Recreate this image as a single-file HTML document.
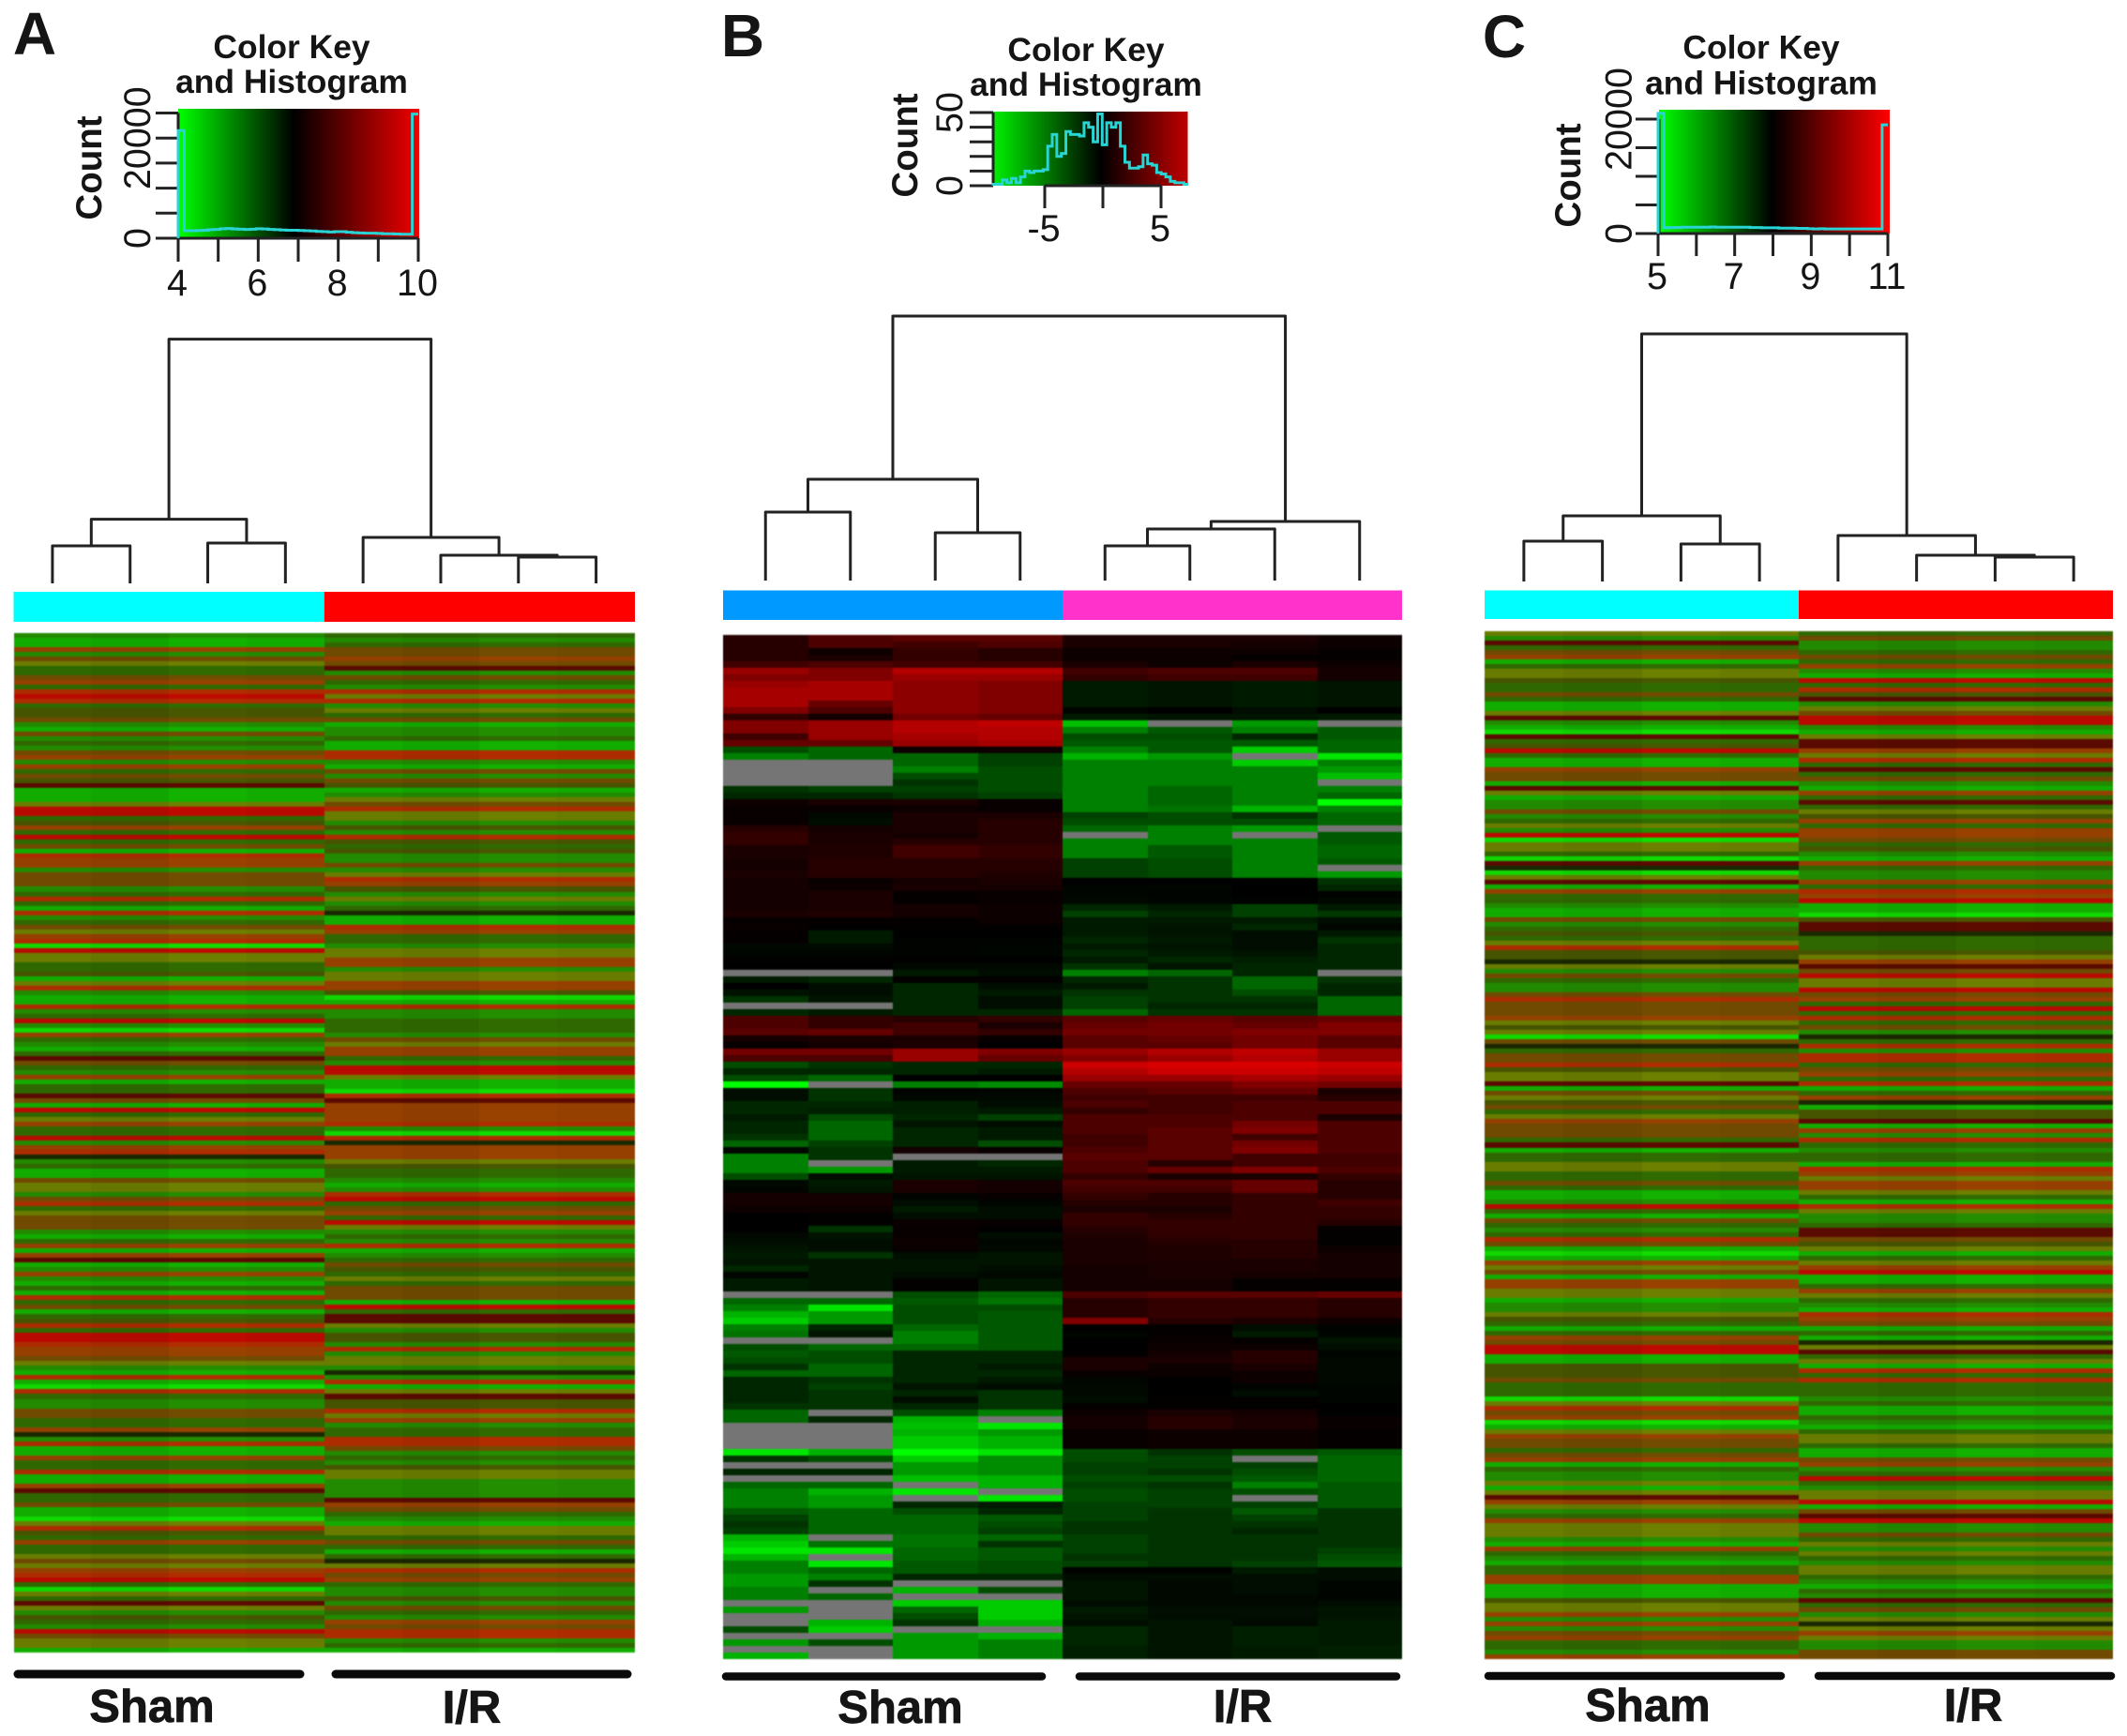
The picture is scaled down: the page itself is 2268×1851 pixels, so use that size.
<!DOCTYPE html>
<html lang="en">
<head>
<meta charset="utf-8">
<title>Heatmaps with colour keys: Sham versus I/R</title>
<style>
html,body{margin:0;padding:0;background:#fff;}
#figure{display:block;width:2268px;height:1851px;font-family:"Liberation Sans",sans-serif;}
text{fill:#151515;}
.b{font-weight:700;}
</style>
</head>
<body>
<svg id="figure" xmlns="http://www.w3.org/2000/svg" width="2268" height="1851" viewBox="0 0 2268 1851">
<defs>
<filter id="soft" filterUnits="userSpaceOnUse" x="0" y="600" width="2268" height="1200" color-interpolation-filters="sRGB"><feGaussianBlur stdDeviation="0.5 0.8"/></filter>
<linearGradient id="keyA"><stop offset="0" stop-color="#00ff00"/><stop offset="0.48" stop-color="#000"/><stop offset="1" stop-color="#f00000"/></linearGradient>
<linearGradient id="keyB"><stop offset="0" stop-color="#00f000"/><stop offset="0.55" stop-color="#000"/><stop offset="1" stop-color="#c00000"/></linearGradient>
<linearGradient id="keyC"><stop offset="0" stop-color="#00ff00"/><stop offset="0.49" stop-color="#000"/><stop offset="1" stop-color="#ff0000"/></linearGradient>
</defs>
</svg>
<script>
// ---------- chart data ----------
const countsA = [21500,1500,1500,1550,1600,1700,1750,1900,1950,1850,1800,1750,1800,1900,1850,1750,1700,1650,1600,1600,1550,1500,1450,1350,1300,1250,1300,1300,1200,1100,1050,1000,1000,950,900,900,850,800,800,24800];
const countsB = [1,1,4,2,5,2,6,10,9,10,10,11,27,35,20,22,37,35,35,34,43,40,30,49,28,43,40,43,27,16,12,12,13,21,15,14,9,8,6,3,2,2,1];
const countsC = [21000,1000,1050,1050,1100,1100,1100,1100,1100,1150,1100,1100,1100,1100,1100,1100,1050,1050,1000,1000,1000,950,950,950,900,900,850,800,850,800,800,800,800,800,800,800,800,800,800,19000];

const countTicksA = [0,5000,10000,15000,20000,25000];
const countTicksB = [0,10,20,30,40,50];
const countTicksC = [0,5000,10000,15000,20000];
const countLabelsA = [0,20000];
const countLabelsB = [0,50];
const countLabelsC = [0,20000];
const valueTicksA = [4,5,6,7,8,9,10];
const valueTicksB = [-5,0,5];
const valueTicksC = [5,6,7,8,9,10,11];
const valueLabelsA = [4,6,8,10];
const valueLabelsB = [-5,5];
const valueLabelsC = [5,7,9,11];

// dendrogram merges: [left, right, height]; a number is a leaf, "m<k>" is an earlier merge
const mergesA = [[0,1,40],[2,3,43],["m0","m1",68.4],[6,7,28],[5,"m3",30],[4,"m4",49],["m2","m5",260.4]];
const mergesB = [[0,1,73],[2,3,51],["m0","m1",108],[4,5,37],["m3",6,55],["m4",7,63],["m2","m5",282]];
const mergesC = [[0,1,43],[2,3,40],["m0","m1",70],[6,7,26],[5,"m3",28],[4,"m4",49],["m2","m5",264]];

const groupNames = ["Sham","I/R"];

// blended stripe classes for panels A and C: [Sham class, I/R class] per row
const heatA = [[2,3],[1,2],[1,3],[7,6],[2,6],[6,7],[5,6],[3,10],[3,2],[6,6],[7,3],[3,2],[8,8],[9,5],[8,8],[3,2],[4,5],[4,3],[6,6],[2,1],[1,2],[6,2],[2,3],[3,1],[2,1],[6,8],[7,8],[2,2],[7,1],[3,6],[6,2],[4,6],[10,4],[1,1],[1,2],[1,5],[5,6],[9,8],[9,5],[3,5],[4,2],[7,4],[3,2],[9,8],[3,4],[6,3],[1,4],[8,2],[7,2],[7,6],[2,2],[6,5],[6,8],[6,7],[2,4],[3,2],[8,5],[3,2],[1,3],[8,11],[2,1],[3,1],[6,8],[5,7],[7,3],[8,3],[0,2],[9,5],[5,5],[5,7],[3,7],[3,2],[4,5],[1,5],[5,7],[8,7],[2,4],
[1,0],[1,1],[8,8],[2,2],[3,2],[9,3],[2,3],[0,3],[7,2],[3,6],[2,5],[1,7],[3,7],[10,3],[6,2],[3,9],[2,9],[7,5],[1,1],[3,1],[3,0],[10,8],[6,10],[1,7],[9,7],[3,7],[5,7],[7,8],[3,2],[3,0],[9,8],[2,11],[7,7],[8,7],[11,7],[2,5],[3,4],[1,3],[1,3],[6,2],[5,1],[5,2],[2,8],[6,9],[8,3],[3,6],[5,7],[6,3],[6,9],[6,5],[2,2],[1,3],[3,2],[7,8],[1,1],[7,2],[10,3],[1,6],
[2,4],[7,3],[2,5],[1,3],[3,6],[1,6],[8,6],[3,1],[6,9],[1,3],[3,10],[4,10],[8,5],[3,2],[9,4],[9,4],[8,2],[7,8],[7,2],[6,5],[5,5],[2,2],[1,11],[8,2],[1,8],[0,1],[8,5],[3,10],[2,4],[2,4],[6,8],[6,5],[3,7],[3,2],[7,3],[11,3],[2,8],[8,8],[1,6],[1,2],[7,3],[3,2],[3,4],[8,5],[1,5],[1,2],[7,2],[10,2],[3,2],[3,10],[6,7],[1,6],
[1,3],[0,2],[5,1],[8,5],[4,5],[3,3],[7,6],[3,3],[3,1],[5,3],[6,11],[5,5],[7,8],[8,6],[9,7],[3,3],[0,2],[5,2],[3,4],[10,2],[5,6],[2,3],[4,2],[3,7],[2,6],[9,8],[6,8],[5,2],[5,3],[1,1]];

const heatC = [[5,3],[2,6],[10,2],[3,2],[6,3],[7,6],[1,3],[3,7],[5,2],[5,1],[4,9],[3,3],[3,8],[6,4],[3,10],[1,2],[1,5],[5,6],[10,9],[2,9],[1,2],[0,1],[10,5],[3,10],[4,10],[9,7],[3,5],[1,8],[1,3],[7,10],[6,3],[6,6],[1,2],[10,1],[5,7],[1,3],[2,10],[2,3],[6,5],[2,4],[3,7],[5,3],[2,7],[9,7],[0,6],[5,3],[5,4],[3,2],[0,1],[10,7],[11,3],[0,2],[5,2],[10,7],[1,3],[7,8],[3,7],[3,9],[2,1],[1,1],[1,0],[6,4],[2,10],[3,10],[4,11],[3,3],[5,3],[8,3],[4,4],[4,5],[11,7],[5,10],[2,6],[6,9],[3,5],[2,5],[2,9],[6,6],[8,7],[6,3],[6,9],[6,3],
[7,8],[5,3],[4,6],[5,2],[0,11],[6,3],[11,8],[3,2],[6,8],[6,8],[8,3],[4,6],[5,7],[5,3],[10,8],[1,1],[6,3],[5,7],[4,11],[6,1],[3,4],[5,4],[7,10],[6,1],[6,7],[6,2],[3,8],[10,3],[1,2],[3,3],[3,3],[5,1],[5,8],[3,7],[3,5],[6,7],[3,7],[1,5],[1,3],[2,1],[9,8],[3,5],[1,2],[6,2],[3,3],[2,10],[3,10],[8,6],[6,4],[1,5],[0,1],[1,3],[7,5],[5,7],[6,9],[1,1],[7,1],[7,3],[5,7],[5,5],[1,3],[2,2],[2,1],[5,8],[4,7],[3,6],[1,1],[3,3],[7,1],[6,11],[9,5],[9,10],[1,3],[1,5],[4,1],[4,8],[4,3],[6,8],[3,3],[3,3],[3,3],[0,2],[5,3],[8,1],[6,1],
[7,3],[0,2],[1,1],[5,3],[7,5],[6,5],[6,3],[3,1],[6,1],[7,6],[1,7],[3,2],[2,3],[2,9],[5,3],[1,2],[5,5],[10,5],[7,9],[5,1],[2,6],[3,10],[7,9],[5,2],[5,2],[5,6],[2,3],[1,5],[7,2],[3,5],[2,3],[1,2],[3,5],[3,5],[7,3],[7,2],[1,1],[1,3],[1,2],[4,10],[5,3],[5,6],[7,2],[2,5],[7,11],[2,5],[6,7],[7,5],[3,2],[3,2],[2,6],[7,6]];

const _ = null; // missing value, drawn grey
const heatB = [
[1.5,3,3.5,3.5,1,1,1,.5],[1.5,3,2.5,3,1,1,.8,.5],[1.5,.5,2,1.5,.5,.5,.5,.2],[1.5,1,2,1.5,.5,.5,.2,.2],[2.5,3,2.5,2.5,1,.5,1,.5],[6,5,7,7,2.5,3,3,.8],[5,5,6,6,2,2.5,2.5,.8],
[6,6.5,5.5,5,-1,-.8,-1,-.8],[6.5,6.5,5.5,5,-1,-.8,-1,-.8],[6.5,6.5,5.5,5,-1,-.8,-1,-.8],[6.5,4,5.5,5,-1,-.8,-1,-.8],[5,3,5.5,5,-.2,0,-.5,0],[2,.8,4.5,4,-1,-.8,-.8,-1],[5,6,7,7.5,-7.5,_,-6,_],[5,6,7,7,-5,-3.5,-5,-3.5],[2.5,6,6.5,7,-3,-3,-1.5,-3.5],[4,4,6,6.5,-3.5,-3.5,-3.5,-4],
[-3,-4,.5,.5,-5,-3.5,-8,-4],[-5,-4,-4,-2.5,-7,-6,_,-9],[_,_,-4,-2.5,-5,-5,-8,-5],[_,_,-5,-3,-5,-5,-5,-6],[_,_,-3,-3,-5,-5,-5,-7.5],[_,_,-2,-3,-5,-5,-5,_],[-2,-2.5,-2.5,-3,-5,-4,-5,-5],[-1.5,-1.5,-2,-2.5,-5,-4,-5,-4],[.5,1,1,.3,-5,-4,-5,-10],[.3,.3,.5,.3,-5,-4.5,-7,-5],[.3,-.3,1,1,-2.5,-3,-2,-4],[.3,-.5,1,1.5,-3,-3,-3,-4],[1.5,.8,1,1.5,-4,-5,-6,_],[2,1,.8,1.5,_,-5,_,-3.5],[2,1,1.5,1.5,-5,-5,-5,-3.5],[1,1.2,2.5,2,-5,-3.5,-5,-4],[1,1.2,2.5,2,-5,-3.5,-5,-4],[.8,1.5,1.5,1.5,-2.5,-3,-5,-3.5],[.8,1.5,1.5,1.5,-2.5,-3,-5,_],[1,1.5,1.5,1.2,-2.5,-3,-5,-6],
[.8,.3,.8,1,0,0,0,-2],[.8,.5,1,.8,-.2,-.2,0,-1.5],[.8,1,.2,.3,-.2,-.1,0,-.1],[.8,1,.2,.3,-.3,-.2,-.1,-.3],[.8,1,.8,.5,-1.5,-1,-2.5,-1],[1,1.2,.8,.5,-2.5,-1.5,-2.5,-2.2],[.2,.2,.2,.5,-1,-1,-1,-.5],[.3,0,.1,.1,-1,-.8,-1.5,-.2],[.2,-1,0,0,-1,-.8,-.5,-1],[.2,-1,-.1,-.1,-1.5,-1,-.5,-2],[-.3,-.4,-.1,-.2,-1,-.8,-.5,-1.5],[-.2,-.2,-.1,-.2,-1.5,-1,-.8,-1.5],[.1,.1,.1,0,-1,-1.5,-1.2,-1.5],[0,0,-.3,-.3,-2,-.8,-1.5,-1.5],[_,_,-1,-.5,-5,-4,-1.5,_],[-1,-1.5,.1,.1,-1.5,-2,-4,-2],[0,-.5,-1.5,-.5,-1,-2,-4,-1.5],[-.7,-.5,-1.5,-1,-2,-2,-3,-1.5],[-2,-.8,-1.5,-.5,-2.5,-2,-2,-4],[_,_,-1.5,-.5,-2.5,-1.5,-1.5,-4],[-1.5,-1,-1.5,-1.5,-4,-2,-2,-4],
[3,2,1.5,2,3.5,4,3.5,4],[3,2,2.5,1,4,4.5,4,5],[3.5,4,2.5,2,4.5,4.5,5,5],[.8,1,1,.3,3.5,4,4.5,3.5],[.3,.8,1,0,3.5,3.5,4.5,3.5],[4.5,4.5,6,5,6,7,7.5,6],[3,3,6,4,5,6,7,6],[-3,-2,-1.5,-1.5,8,8.5,8.5,8],[-1.5,-1.5,-1.5,-1,7,8,8,7.5],[-3,-4,0,0,6,6,6.5,6],[-10,_,-5,-5.5,4,4,5,4.5],[-.5,-2,-.1,-.2,3,3.5,4,1],[-.5,-2,-.3,-.3,2.5,2.5,2.5,1.5],[-1.5,-1.5,-1.2,-.5,3,2.5,3,3],[-1.5,-1.2,-1.2,-1,2,2.5,3,3],[-1,-3,-1.5,-2.5,3,3,3,1],[-1.5,-4,-.8,-.5,3,3,4.5,3],[-1.5,-4,-1.5,-1,3,3.5,5,3],[-2,-4,-1.5,-1,2.5,3.5,2.5,3],[-4,-2.5,-1.5,-3,2.5,3.5,4.5,3],[-.3,-2,.8,.3,3,3.5,5,3],[-5,-2,_,_,3.5,3.5,2.5,2.5],[-5,_,-1,-1.5,3,1.5,2.5,2.5],[-5,-6,-1,-1,3,4,5,3],[-3,-.5,-.8,-.8,2,1,1,2],
[-.3,-1,1,.8,3,3,4,1.5],[-.2,-.8,1,.8,2.5,2.5,4,1.5],[.8,.8,-.1,.3,2,1.5,2,1.5],[.8,.8,-.5,-.2,1.5,1.5,2,2.5],[.5,.5,-1,-.5,1,1,2,2],[0,.1,-.5,-.5,2,1.5,2,2],[0,.1,.4,.3,2,2,2,1.5],[0,-2,.3,0,1.5,2,2,.1],[-.3,-.8,.3,-.5,1.2,1.8,2,.1],[-.5,-.5,.5,-.2,1,1.5,1.5,.1],[-.8,-.5,.3,-.3,1,1.2,1.5,.5],[-1,-2,-.6,-.8,1,1.2,1.5,.8],[-.8,-.8,-.8,-.8,1,1,1,.8],[-1.5,-.8,-.8,-.5,.8,1,1,.8],[-.2,-.8,-.5,-.3,.8,1,.8,.8],[-1,-.8,.1,-.8,.8,.8,.2,.1],[-1,-.8,.1,-.8,.8,.8,.2,.1],
[_,_,-3,-4,3,3.5,3.5,4],[-4,-4,-3.5,-4.5,1.5,2,2,1.5],[-5,-9,-3,-3,1.5,2,2,1.5],[-7,-6,-3,-3.5,1.5,2,2,1.5],[-8,-6,-3,-3.5,5,1.5,1,.5],[-5,-1.5,-4,-3.5,0,.1,-.5,-.1],[-4.5,-.8,-5,-3.5,-.2,.2,-1,-.2],[_,_,-5,-3.5,0,.3,.2,-.8],[-3,-4,-4,-3.5,0,.5,.5,-.5],[-3.5,-3,-1.5,-1.5,.1,.8,1.5,-.2],[-3,-3,-1.5,-1.5,1,1,1.5,-.3],[-2,-4,-1.5,-1,1,.5,1,-.3],[-4,-4,-1.5,-1.5,.3,.4,.5,-.3],[-1.5,-2,-1.5,-1,-.2,0,.5,-.3],[-1.5,-2.5,-.8,-.5,-.3,0,-.1,-.2],[-1.5,-2,-1.5,-2,-.3,0,-.5,-.2],[-1.5,-2,-.5,-2,-.5,.1,.1,-.2],[-2,-2,-1.5,-2,.1,.1,.1,0],[-4,_,-3,-5,.5,1,.8,0],[-4,-1.5,-7,_,.8,1.5,1,.3],[_,_,-7.5,-9,.8,1.5,1,.3],[_,_,-7,-6,.3,.5,.5,.2],[_,_,-8,-7,.3,.5,.5,.2],[_,_,-8,-7,.3,.5,.5,.2],
[-9,-7,-10,-9,-3,-2,-3,-3.5],[-2,-3,-8,-5.5,-3,-2.5,_,-4],[_,_,-6,-5.5,-2.5,-2.5,-2.5,-4],[-1.5,-1.5,-6,-5.5,-2.5,-2,-3,-4],[_,_,-7.5,-7,-3,-3,-3.5,-4],[-4,-4,_,-7,-2.5,-2,-5,-3.5],[-5,-7,-9,_,-3,-2.5,-3,-3.5],[-5,-6,_,-9,-3,-2.5,_,-3.5],[-5,-6,-1.5,-1,-2.5,-2.5,-2.5,-3.5],[-3.5,-4,-3,-1.5,-2.5,-2,-3.5,-2],[-2.5,-4,-4,-3.5,-2.5,-2,-2.5,-2],[-2,-4,-4,-3,-2,-2,-2,-2],[-2.5,-4,-4,-2.5,-2,-2,-1.5,-2],[-7,_,-4.5,-4,-2.5,-2,-2,-2],[-8,-4.5,-4.5,-2,-2.5,-2,-2,-2],[-9,-9,-4,-3.5,-2.5,-2,-2,-2.5],[-7,_,-4,-3.5,-2,-2,-2,-3],[-5,-9,-3.5,-3,-2.5,-2,-2.5,-3.5],
[-5,-4,-3.5,-3,-.1,-.1,-1,-.5],[-6,-5,-1.5,-1.5,-.5,-.5,-.5,-.5],[-6,-2,_,_,-.8,-.3,-.5,-.2],[-5,_,-7,-3,-.8,-.3,-.5,-.2],[-5,-4,_,_,-.8,-.3,-.3,-.1],[_,_,-8,-8,-.5,-.3,-.3,-.5],[-6,_,-4,-8,-1,-.5,-.5,-.8],[_,_,-3,-8,-.8,-.5,-.5,-.8],[_,-7,-2,-7,-.5,-.8,-.4,-1],[-3,-8,_,_,-1.5,-.8,-1.2,-1],[_,_,-6,-7,-1.5,-.8,-1.2,-1],[-6,-3,-6,-5,-1.5,-.8,-1.2,-1],[_,_,-6,-5,-1.2,-.8,-1,-1.2],[-7,_,-6,-5,-1.2,-.8,-1,-1.2]];

// ---------- rendering ----------
const NS = "http://www.w3.org/2000/svg";
const root = document.getElementById("figure");
const stripePalette = ["#10d800","#12ac00","#228a00","#2f6800","#465400","#6a7c00","#6f4a00","#954000","#ac2c00","#b80a00","#5a0a00","#1a2800"];
const columnTone = [1,0.96,1.03,1];

function make(tag, attrs, parent) {
  const el = document.createElementNS(NS, tag);
  for (const k in attrs) el.setAttribute(k, attrs[k]);
  parent.appendChild(el);
  return el;
}
function label(parent, str, x, y, size, bold, rotate) {
  const attrs = {x: x, y: y, "font-size": size, "text-anchor": "middle"};
  if (bold) attrs["class"] = "b";
  if (rotate) attrs.transform = "rotate(-90 " + x + " " + y + ")";
  const el = make("text", attrs, parent);
  el.textContent = str;
  return el;
}
function scale(d0, d1, r0, r1) { return v => r0 + (v - d0) * (r1 - r0) / (d1 - d0); }
function tone(hex, f) {
  const n = parseInt(hex.slice(1), 16);
  const c = s => Math.min(255, Math.round(((n >> s) & 255) * f));
  return "rgb(" + c(16) + "," + c(8) + "," + c(0) + ")";
}
function divergent(v) {
  if (v === null) return "#757575";
  const a = Math.min(255, Math.round(Math.abs(v) * 25.5));
  return v >= 0 ? "rgb(" + a + ",0,0)" : "rgb(0," + a + ",0)";
}

function drawPanel(p) {
  const g = make("g", {}, root);
  
  

  const letter = label(g, p.letter, p.letterX, p.letterY, 64, true);
  
  

  // colour key
  const sx = scale(p.xDomain[0], p.xDomain[1], p.xRange[0], p.xRange[1]);
  const sy = scale(0, p.yMax, p.yRange[0], p.yRange[1]);
  const t1 = label(g, "Color Key", p.titleX, p.titleY1, 35.4, true);
  
  
  const t2 = label(g, "and Histogram", p.titleX, p.titleY2, 35.4, true);
  
  
  const keyRect = make("rect", {x: p.key[0], y: p.key[1], width: p.key[2] - p.key[0], height: p.key[3] - p.key[1], fill: "url(#" + p.grad + ")"}, g);
  
  

  const axisStyle = {stroke: "#222", "stroke-width": 3, fill: "none"};
  const tickY0 = sy(0);
  const yLine = make("line", Object.assign({x1: p.key[0], x2: p.key[0], y1: sy(p.countTicks[p.countTicks.length - 1]), y2: tickY0}, axisStyle), g);
  
  
  const xLine = make("line", Object.assign({x1: sx(p.valueTicks[0]), x2: sx(p.valueTicks[p.valueTicks.length - 1]), y1: tickY0, y2: tickY0}, axisStyle), g);
  
  
  p.countTicks.forEach(v => {
    const t = make("line", Object.assign({x1: p.yTickX, x2: p.key[0], y1: sy(v), y2: sy(v)}, axisStyle), g);
    
    
  });
  p.valueTicks.forEach(v => {
    const t = make("line", Object.assign({x1: sx(v), x2: sx(v), y1: tickY0, y2: p.xTickY}, axisStyle), g);
    
    
  });
  p.countLabels.forEach(v => {
    const t = label(g, String(v), p.yLabelX, sy(v), 39.5, false, true);
    
    
  });
  p.valueLabels.forEach(v => {
    const t = label(g, String(v), sx(v) - 1, p.xLabelY, 39.5, false);
    
    
  });
  const cnt = label(g, "Count", p.countX, p.countY, 38.5, true, true);
  
  

  // histogram
  const n = p.counts.length;
  const lo = p.histDomain[0], w = (p.histDomain[1] - lo) / n;
  let d = "M" + sx(lo) + " " + sy(0);
  p.counts.forEach((c, i) => {
    d += "L" + sx(lo + i * w) + " " + sy(c) + "L" + sx(lo + (i + 1) * w) + " " + sy(c);
  });
  const hist = make("path", {d: d, fill: "none", stroke: "#28d4d4", "stroke-width": 3}, g);
  
  

  // column geometry
  const colW = (p.heat[1] - p.heat[0]) / 8;
  const colCenter = i => p.heat[0] + colW * (i + 0.5);

  // dendrogram
  const dy = h => p.leafY - h;
  const nodes = [];
  const pos = ref => typeof ref === "number" ? {x: colCenter(ref), y: p.leafY} : nodes[+ref.slice(1)];
  p.merges.forEach(m => {
    const a = pos(m[0]), b = pos(m[1]), y = dy(m[2]);
    const link = make("path", {d: "M" + a.x + " " + a.y + "V" + y + "H" + b.x + "V" + b.y, fill: "none", stroke: "#222", "stroke-width": 3, "stroke-linejoin": "round"}, g);
    
    
    nodes.push({x: (a.x + b.x) / 2, y: y});
  });

  // group colour strip
  const mid = p.heat[0] + colW * 4;
  const s1 = make("rect", {x: p.heat[0], y: p.strip[0], width: mid - p.heat[0], height: p.strip[1] - p.strip[0], fill: p.stripColors[0]}, g);
  
  
  const s2 = make("rect", {x: mid, y: p.strip[0], width: p.heat[1] - mid, height: p.strip[1] - p.strip[0], fill: p.stripColors[1]}, g);
  
  

  // heatmap cells
  const hg = make("g", {filter: "url(#soft)", "shape-rendering": "crispEdges"}, g);
  
  
  const rowCount = p.rows.length;
  const rowY = i => Math.round(p.heat[2] + i * (p.heat[3] - p.heat[2]) / rowCount);
  const colX = i => Math.round(p.heat[0] + i * colW);
  p.rows.forEach((row, r) => {
    for (let c = 0; c < 8; c++) {
      const fill = p.cellColor(row, c);
      const cell = make("rect", {x: colX(c), y: rowY(r), width: colX(c + 1) - colX(c), height: rowY(r + 1) - rowY(r), fill: fill}, hg);
      
      
    }
  });

  // group bars and labels
  p.bars.forEach((b, i) => {
    const bar = make("line", {x1: b[0], x2: b[1], y1: p.barY, y2: p.barY, stroke: "#0a0a0a", "stroke-width": p.barW, "stroke-linecap": "round"}, g);
    
    
    const t = label(g, groupNames[i], p.groupX[i], p.groupY[i], 49, true);
    t.setAttribute("stroke", "#151515");
    t.setAttribute("stroke-width", "0.8");
    
    
  });
}

const stripeCell = (row, c) => tone(stripePalette[row[c < 4 ? 0 : 1]], columnTone[c % 4]);
const valueCell = (row, c) => divergent(row[c]);

drawPanel({
  letter: "A", letterX: 37, letterY: 58, grad: "keyA",
  key: [190, 116, 447, 254], xDomain: [4, 10], xRange: [190, 446], histDomain: [4, 10],
  yMax: 25000, yRange: [254, 120.5], counts: countsA,
  countTicks: countTicksA, countLabels: countLabelsA, valueTicks: valueTicksA, valueLabels: valueLabelsA,
  yTickX: 166, xTickY: 279, yLabelX: 160, xLabelY: 315,
  countX: 108, countY: 179, titleX: 311, titleY1: 62, titleY2: 99,
  leafY: 622, merges: mergesA, heat: [14.5, 677, 675, 1762], strip: [631, 663],
  stripColors: ["#00ffff", "#ff0000"], rows: heatA, cellColor: stripeCell,
  bars: [[19, 320], [358, 669]], barY: 1785, barW: 9, groupX: [162, 503], groupY: [1836, 1837]
});
drawPanel({
  letter: "B", letterX: 792, letterY: 60, grad: "keyB",
  key: [1059, 119, 1266.5, 198], xDomain: [-5, 5], xRange: [1114, 1238], histDomain: [-9.43, 7.36],
  yMax: 50, yRange: [198, 120], counts: countsB,
  countTicks: countTicksB, countLabels: countLabelsB, valueTicks: valueTicksB, valueLabels: valueLabelsB,
  yTickX: 1034, xTickY: 222, yLabelX: 1026, xLabelY: 257,
  countX: 978, countY: 155, titleX: 1158, titleY1: 65, titleY2: 102,
  leafY: 619, merges: mergesB, heat: [771, 1495, 677, 1769], strip: [629.5, 661],
  stripColors: ["#0099ff", "#ff33cc"], rows: heatB, cellColor: valueCell,
  bars: [[774, 1111], [1151, 1489]], barY: 1787.5, barW: 8.5, groupX: [960, 1325], groupY: [1837, 1836]
});
drawPanel({
  letter: "C", letterX: 1604, letterY: 61, grad: "keyC",
  key: [1769, 117, 2015, 249], xDomain: [5, 11], xRange: [1768, 2013], histDomain: [5, 11],
  yMax: 20000, yRange: [249, 127], counts: countsC,
  countTicks: countTicksC, countLabels: countLabelsC, valueTicks: valueTicksC, valueLabels: valueLabelsC,
  yTickX: 1744, xTickY: 273, yLabelX: 1739.5, xLabelY: 308,
  countX: 1685, countY: 187, titleX: 1878, titleY1: 62.5, titleY2: 100.5,
  leafY: 620, merges: mergesC, heat: [1583, 2253, 673, 1769], strip: [629.5, 660],
  stripColors: ["#00ffff", "#ff0000"], rows: heatC, cellColor: stripeCell,
  bars: [[1587, 1899], [1939, 2251]], barY: 1787, barW: 8.5, groupX: [1757, 2104], groupY: [1835, 1835]
});
</script>
</body>
</html>
